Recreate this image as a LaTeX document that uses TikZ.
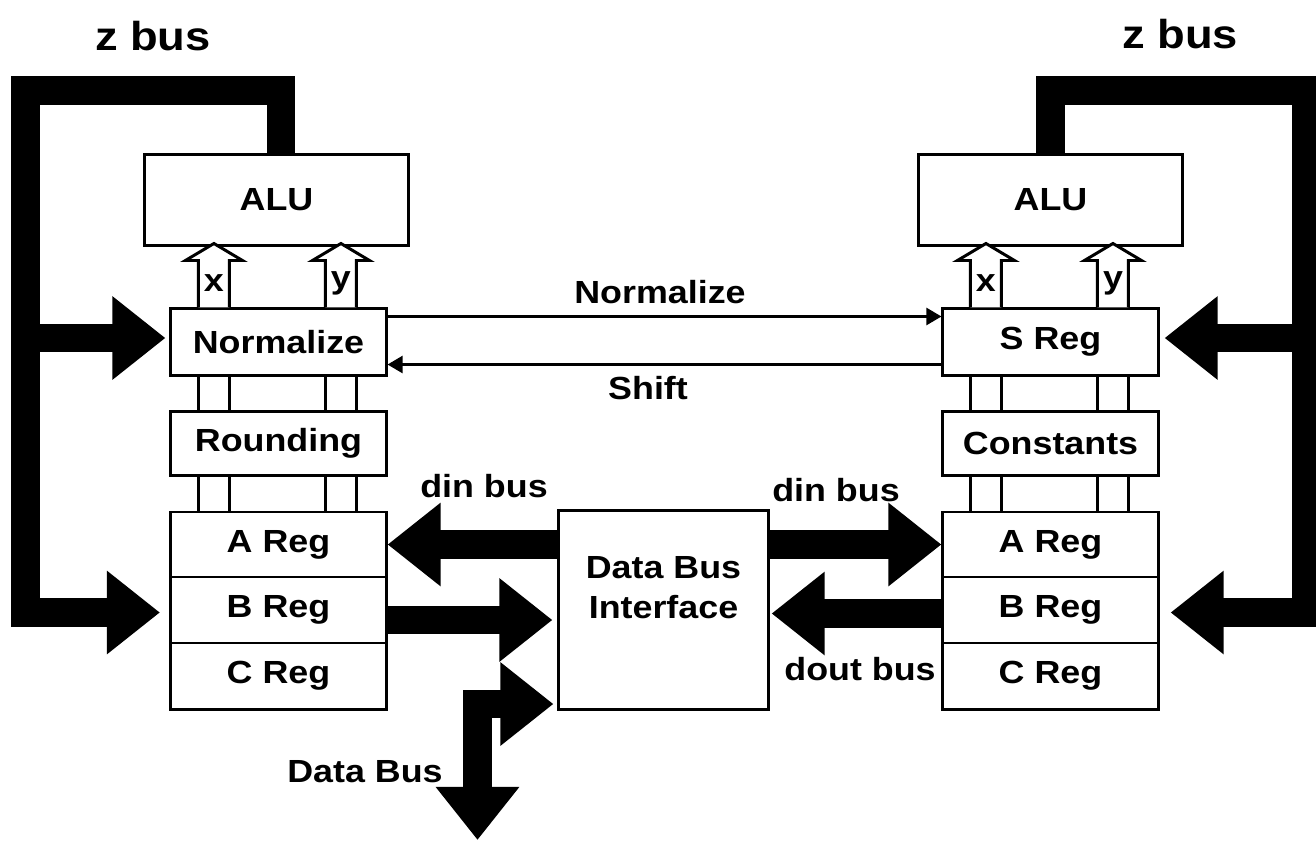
\documentclass[tikz,border=0pt]{standalone}
\usepackage{fontspec}
\setmainfont{Liberation Sans}[FakeStretch=1.12]
\usetikzlibrary{arrows.meta,calc}
\begin{document}
\begin{tikzpicture}[x=0.01cm,y=-0.01cm,
  box/.style={draw,line width=0.85pt,fill=white,inner sep=0pt,font=\fontsize{9.1}{10}\selectfont\bfseries},
  lab/.style={inner sep=0pt,font=\fontsize{9.1}{11.3}\selectfont\bfseries},
  big/.style={inner sep=0pt,font=\fontsize{11.5}{13}\selectfont\bfseries},
  fat/.style={line width=0.285cm,line join=miter,-{Triangle[length=0.53cm,width=0.80cm]}},
  fatboth/.style={line width=0.285cm,line join=miter,{Triangle[length=0.53cm,width=0.80cm]}-{Triangle[length=0.53cm,width=0.80cm]}},
  thinarr/.style={line width=0.7pt,-{Triangle[length=0.15cm,width=0.17cm]}},
  hollow/.style={draw,line width=0.85pt,fill=white,line join=miter},
  wire/.style={line width=0.85pt}
]
\useasboundingbox (0,0) rectangle (1316,842);

% boxes
\node[box,minimum width=2.64cm,minimum height=0.90cm] (aluL) at (276.5,200) {ALU};
\node[box,minimum width=2.64cm,minimum height=0.90cm] (aluR) at (1050.5,200) {ALU};

\node[box,minimum width=2.15cm,minimum height=0.66cm] (nL) at (278.5,342) {Normalize};
\node[box,minimum width=2.15cm,minimum height=0.63cm] (rL) at (278.5,443.5) {Rounding};
\node[box,minimum width=2.15cm,minimum height=0.65cm] (aL) at (278.5,544.5) {A Reg};
\node[box,minimum width=2.15cm,minimum height=0.66cm] (bL) at (278.5,610) {B Reg};
\node[box,minimum width=2.15cm,minimum height=0.66cm] (cL) at (278.5,676) {C Reg};

\node[box,minimum width=2.15cm,minimum height=0.66cm] (sR) at (1050.5,342) {S Reg};
\node[box,minimum width=2.15cm,minimum height=0.63cm] (kR) at (1050.5,443.5) {Constants};
\node[box,minimum width=2.15cm,minimum height=0.65cm] (aR) at (1050.5,544.5) {A Reg};
\node[box,minimum width=2.15cm,minimum height=0.66cm] (bR) at (1050.5,610) {B Reg};
\node[box,minimum width=2.15cm,minimum height=0.66cm] (cR) at (1050.5,676) {C Reg};

\node[box,minimum width=2.09cm,minimum height=1.98cm] (dbi) at (663.5,610) {};
\node[lab,align=center] (dbit) at (663.5,588) {Data Bus\\Interface};

% hollow x/y arrows and wires
\foreach \b/\l in {nL/aluL,sR/aluR}{
  \foreach \o/\t in {29/x,156/y}{
    \draw[hollow] ($(\b.north west)+(\o,0)$) -- ++(0,-47) -- ++(-13,0) -- ++(28.5,-17) -- ++(28.5,17) -- ++(-13,0) -- ($(\b.north west)+(\o+31,0)$);
    \node[lab] (lab\b\t) at ($(\b.north west)+(\o+15.5,-24)$) {\t};
  }
}
\foreach \u/\d in {nL/rL,rL/aL,sR/kR,kR/aR}{
  \foreach \o in {29,60,156,187}{
    \draw[wire] ($(\u.south west)+(\o,0)$) -- ($(\d.north west)+(\o,0)$);
  }
}

% thin arrows
\draw[thinarr] ($(nL.north east)+(0,9)$) -- ($(sR.north west)+(0,9)$);
\draw[thinarr] ($(sR.south west)+(0,-12)$) -- ($(nL.south east)+(0,-12)$);
\node[lab] (nlab) at (660,292) {Normalize};
\node[lab] (shlab) at (648,388) {Shift};

% z buses
\coordinate (zLc) at (25.5,90.5);
\coordinate (zRc) at (1306,90.5);
\draw[fat] ($(aluL.north)+(4.5,0)$) |- (zLc) |- ($(bL.west)+(-9.5,2.5)$);
\draw[fat] (zLc |- 0,338) -- ($(nL.west)+(-4,-4)$);
\draw[fat] (aluR.north) |- (zRc) |- ($(bR.east)+(11,2.5)$);
\draw[fat] (zRc |- 0,338) -- ($(sR.east)+(5,-4)$);
\node[big] (zl) at (153,36) {z bus};
\node[big] (zr) at (1180,34) {z bus};

% data buses
\draw[fat] (dbi.west |- aL.east) -- (aL.east);
\draw[fat] ($(bL.east)+(0,10)$) -- ($(dbi.west |- bL.east)+(-5,10)$);
\draw[fat] (dbi.east |- aR.west) -- (aR.west);
\draw[fat] ($(bR.west)+(0,3.5)$) -- ($(dbi.east |- bR.west)+(2,3.5)$);
\coordinate (dbend) at (477.5,840);
\draw[fatboth] ($(dbi.west)+(-4,94)$) -| (dbend);

\node[lab] (dinl) at (484,486) {din bus};
\node[lab] (dinr) at (836,490) {din bus};
\node[lab] (doutl) at (860,669) {dout bus};
\node[lab] (dbl) at (365,772) {Data Bus};
\end{tikzpicture}
\end{document}
